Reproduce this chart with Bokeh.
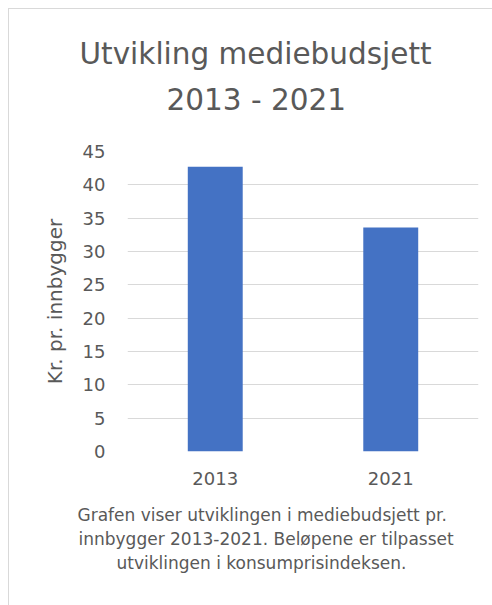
from bokeh.plotting import figure
from bokeh.models import Title, FactorRange, Range1d, FixedTicker
from bokeh.embed import file_html
from bokeh.resources import INLINE

years = ["2013", "2021"]
kr_per_innbygger = [42.7, 33.6]
y_ticks = [0, 5, 10, 15, 20, 25, 30, 35, 40, 45]
title_lines = ["Utvikling mediebudsjett", "2013 - 2021"]
caption_lines = [
    "Grafen viser utviklingen i mediebudsjett pr.",
    "innbygger 2013-2021. Beløpene er tilpasset",
    "utviklingen i konsumprisindeksen.",
]
y_label = "Kr. pr. innbygger"

FONT = "DejaVu Sans"
GRAY = "#595959"

p = figure(
    width=484, height=597,
    x_range=FactorRange(*years, range_padding=0),
    y_range=Range1d(0, 45),
    output_backend="svg", toolbar_location=None,
    min_border_left=118, min_border_right=15,
    min_border_top=142, min_border_bottom=155,
)
p.styles = {"margin-top": "8px", "margin-left": "8px",
            "border-top": "1px solid #d9d9d9", "border-left": "1px solid #d9d9d9"}
p.outline_line_color = None

p.vbar(x=years, top=kr_per_innbygger, width=0.313, fill_color="#4472C4", line_color=None)

p.xgrid.grid_line_color = None
p.ygrid.grid_line_color = "#d9d9d9"
p.yaxis.ticker = FixedTicker(ticks=y_ticks)

for ax in (p.xaxis[0], p.yaxis[0]):
    ax.axis_line_color = None
    ax.major_tick_line_color = None
    ax.minor_tick_line_color = None
    ax.major_tick_out = 0
    ax.major_tick_in = 0
    ax.major_label_text_font = FONT
    ax.major_label_text_font_size = "18px"
    ax.major_label_text_color = GRAY

p.yaxis.major_label_standoff = 22
p.xaxis.major_label_standoff = 20
p.yaxis.axis_label = y_label
p.yaxis.axis_label_text_font = FONT
p.yaxis.axis_label_text_font_size = "20px"
p.yaxis.axis_label_text_font_style = "normal"
p.yaxis.axis_label_text_color = GRAY
p.yaxis.axis_label_standoff = 13

def make_title(txt, size, offset, standoff):
    return Title(text=txt, align="left", offset=offset, standoff=standoff,
                 text_font=FONT, text_font_size=size, text_font_style="normal",
                 text_color=GRAY)

# above: first added is nearest the frame (first one is an empty spacer)
p.add_layout(make_title(" ", "15px", 0, 10), "above")
p.add_layout(make_title(title_lines[1], "29.5px", 39, 10), "above")
p.add_layout(make_title(title_lines[0], "29.5px", -48, 10), "above")

# below: axis first, then a spacer, then the caption lines
p.add_layout(make_title(" ", "10px", 0, 1), "below")
for txt, off in zip(caption_lines, [-50, -49, -11]):
    p.add_layout(make_title(txt, "17px", off, 2), "below")

open("out.html", "w").write(file_html(p, INLINE))
